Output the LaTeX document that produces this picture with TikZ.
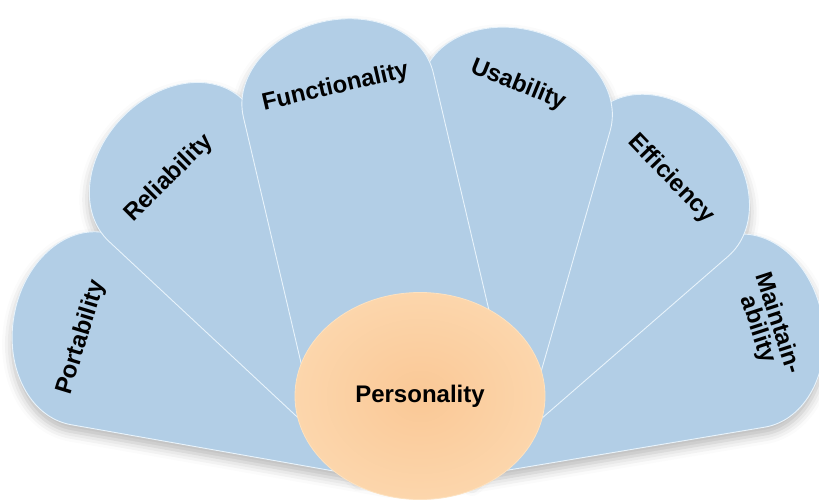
\documentclass[tikz,border=0pt]{standalone}
\usepackage{fontspec}
\setmainfont{Liberation Sans}
\usetikzlibrary{shadows.blur,shapes.geometric}

\definecolor{petalfill}{RGB}{178,206,230}
\definecolor{petalrim}{RGB}{232,243,251}
\definecolor{coreinner}{RGB}{250,200,150}
\definecolor{coreouter}{RGB}{252,214,172}
\definecolor{corerim}{RGB}{253,226,192}

\tikzset{
  petalshadow/.style={fill=petalfill,
    blur shadow={shadow xshift=0pt, shadow yshift=-7pt,
                 shadow blur radius=10pt, shadow opacity=28}},
  petal/.style={fill=petalfill, draw=petalrim, line width=0.9pt},
  core/.style={ellipse, minimum width=250pt, minimum height=207pt,
    inner color=coreinner, outer color=coreouter, draw=corerim, line width=0.8pt},
  label/.style={font=\bfseries\fontsize{24}{21}\selectfont, text=black,
    align=center, inner sep=0pt}
}

% one petal outline: base point, axis angle, length from base to tip
\newcommand\petalpath[4]{%
  [shift={(#1,#2)}, rotate=#3-90]
    (97.5,0) -- (97.5,#4-75)
    arc[start angle=0, end angle=180, x radius=97.5, y radius=75]
    -- (-97.5,0) -- cycle}

\begin{document}
\begin{tikzpicture}[x=1pt, y=1pt]
  \useasboundingbox (0,0) rectangle (819,501);
  \clip (0,0) rectangle (819,501);

  % soft shadows of the whole fan, cast on the background only
  \foreach \bx/\by/\ang/\len in {405.7/116.3/170/397.7, 415.2/114.2/9.5/413,
      425.3/97.9/137/416.5, 408/95.6/41/414.3, 434.5/111.4/74/372,
      410.5/98.3/103.2/391}
    \path[petalshadow, shift={(\bx,\by)}, rotate=\ang-90]
      (97.5,0) -- (97.5,\len-75)
      arc[start angle=0, end angle=180, x radius=97.5, y radius=75]
      -- (-97.5,0) -- cycle;

  % petals, back to front
  \foreach \bx/\by/\ang/\len in {405.7/116.3/170/397.7, 415.2/114.2/9.5/413,
      425.3/97.9/137/416.5, 408/95.6/41/414.3, 434.5/111.4/74/372,
      410.5/98.3/103.2/391}
    \path[petal, shift={(\bx,\by)}, rotate=\ang-90]
      (97.5,0) -- (97.5,\len-75)
      arc[start angle=0, end angle=180, x radius=97.5, y radius=75]
      -- (-97.5,0) -- cycle;

  % petal labels
  \node[label, rotate=73]  (port) at (81.5,163.5) {Portability};
  \node[label, rotate=45]  (rel)  at (169,322.5)  {Reliability};
  \node[label, rotate=13]  (func) at (335.5,413.5) {Functionality};
  \node[label, rotate=-22] (usa)  at (518,416)    {Usability};
  \node[label, rotate=-46] (eff)  at (671,322)    {Efficiency};
  \node[label, rotate=-72] (main) at (767.5,174.5) {Maintain-\\ability};

  % centre
  \node[core, label] (pers) at (420,105) {Personality};
\end{tikzpicture}
\end{document}
